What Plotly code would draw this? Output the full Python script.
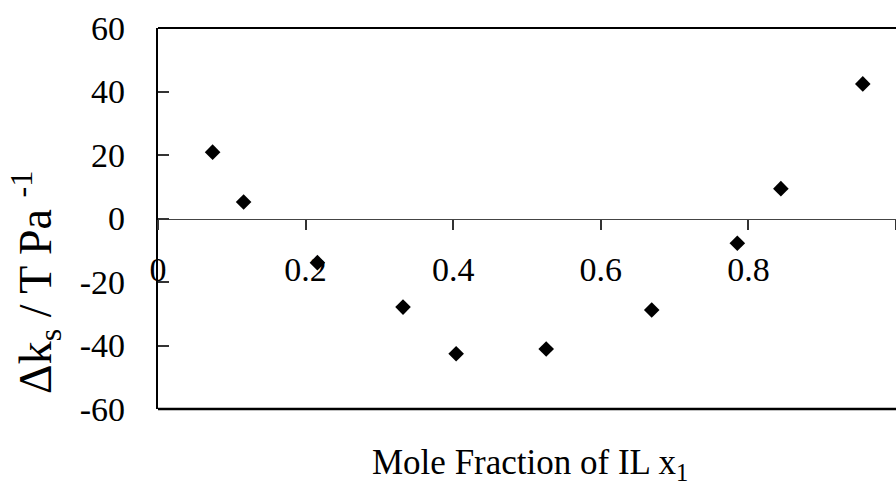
import plotly.graph_objects as go

# Data
x_mole_fraction = [0.074, 0.116, 0.216, 0.332, 0.404, 0.526, 0.669, 0.785, 0.844, 0.955]
delta_ks = [20.9, 5.2, -13.9, -27.9, -42.6, -41.1, -28.8, -7.8, 9.4, 42.4]
x_ticks = [0, 0.2, 0.4, 0.6, 0.8, 1]
x_tick_labels = ["0", "0.2", "0.4", "0.6", "0.8", "1"]
y_ticks = [-60, -40, -20, 0, 20, 40, 60]
y_tick_labels = ["-60", "-40", "-20", "0", "20", "40", "60"]

FONT = "Liberation Serif"

fig = go.Figure()
fig.add_trace(go.Scatter(
    x=x_mole_fraction, y=delta_ks, mode="markers",
    marker=dict(symbol="diamond", size=12, color="black", line=dict(width=0)),
    cliponaxis=False, showlegend=False,
))

fig.update_layout(
    width=896, height=485,
    margin=dict(l=158, r=0, t=28, b=76),
    paper_bgcolor="white", plot_bgcolor="white",
    font=dict(family=FONT, size=34, color="black"),
    xaxis=dict(
        range=[0, 1], anchor="free", position=0.5,
        tickmode="array", tickvals=x_ticks, ticktext=x_tick_labels,
        ticks="outside", ticklen=10, tickwidth=1.5, tickcolor="#333",
        showline=True, linewidth=1.3, linecolor="#444",
        showgrid=False, zeroline=False,
        tickfont=dict(family=FONT, size=34, color="black"),
        ticklabelstandoff=11,
    ),
    yaxis=dict(
        range=[-60, 60],
        tickmode="array", tickvals=y_ticks, ticktext=y_tick_labels,
        ticks="inside", ticklen=11, tickwidth=1.5, tickcolor="#333",
        showline=True, linewidth=2.2, linecolor="black",
        showgrid=False, zeroline=False,
        tickfont=dict(family=FONT, size=34, color="black"),
        ticklabelstandoff=24,
    ),
    shapes=[
        dict(type="line", xref="paper", yref="paper", x0=0, x1=1, y0=1, y1=1,
             line=dict(color="black", width=2.2)),
        dict(type="line", xref="paper", yref="paper", x0=0, x1=1, y0=0, y1=0,
             line=dict(color="black", width=2.5)),
    ],
    annotations=[
        dict(text="Mole Fraction of IL x<sub>1</sub>", xref="paper", yref="paper",
             x=0.504, y=-0.145, xanchor="center", yanchor="middle", showarrow=False,
             font=dict(family=FONT, size=35, color="black")),
        dict(text="Δk<sub>s</sub> / T Pa <sup>-1</sup>", xref="paper", yref="paper",
             x=-0.167, y=0.333, xanchor="center", yanchor="middle", showarrow=False,
             textangle=-90, font=dict(family=FONT, size=46, color="black")),
    ],
)

fig.write_html("out.html")
